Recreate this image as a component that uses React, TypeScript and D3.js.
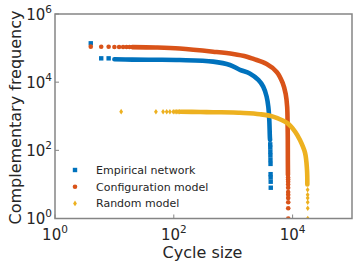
import React from "react";
import * as d3 from "d3";

// ---- data ----
const xTicks = [1, 1e2, 1e4];
const yTicks = [1, 1e2, 1e4, 1e6];
const seriesNames = ["Empirical network", "Configuration model", "Random model"];
const seriesColors = ["#0072BD", "#D95319", "#EDB120"];

// Empirical network
const empSparseSize = [4, 6, 8, 4200, 4210, 4220, 4230, 4240, 4250, 4260, 4270, 4280, 4290];
const empSparseFreq = [138000, 50000, 50000, 150, 120, 90, 70, 52, 40, 20, 16, 12, 8];
const empBandSize = [10, 20, 50, 126, 460, 880, 1300, 1900, 2650, 3200, 3650, 3900, 4050, 4150, 4180];
const empBandFreq = [47000, 46000, 45500, 44500, 40000, 32000, 23000, 18000, 11600, 7400, 3800, 1900, 780, 230, 200];

// Configuration model
const cfgSparseSize = [4, 6, 8, 10, 12, 14, 16, 18, 8400, 8400, 8410, 8410, 8420, 8420, 8430, 8430, 8440, 8440, 8450];
const cfgSparseFreq = [110000, 109000, 109000, 108000, 108000, 108000, 108000, 108000, 16, 14, 12, 10, 8, 6, 5, 4, 3, 2, 1];
const cfgBandSize = [20, 50, 126, 460, 1000, 1700, 2200, 3660, 5400, 6800, 7650, 8100, 8250, 8300, 8320, 8350];
const cfgBandFreq = [107000, 104000, 97000, 78500, 67000, 56000, 48000, 34000, 20000, 9500, 4500, 1875, 485, 200, 52, 19];

// Random model
const rndSparseSize = [13, 50, 66, 76, 86, 98, 105, 112, 118, 124, 17900, 17920, 17940, 17960, 17980, 18000];
const rndSparseFreq = [1365, 1360, 1360, 1360, 1355, 1355, 1355, 1350, 1350, 1350, 7, 5, 4, 3, 2, 1];
const rndBandSize = [130, 280, 460, 1000, 1300, 2820, 4680, 8050, 11000, 13300, 16200, 17470, 17700];
const rndBandFreq = [1350, 1330, 1310, 1290, 1260, 1145, 975, 635, 355, 200, 84, 27, 10];

const W = 360;
const H = 270;
const L = 55, R = 352, T = 14, B = 218.5;
const FONT = "DejaVu Sans, sans-serif";
const TXT = "#262626";
const AXC = "#858585";

export default function App() {
  const x = d3.scaleLog().domain([1, 1e5]).range([L, R]);
  const y = d3.scaleLog().domain([1, 1e6]).range([B, T]);
  const line = d3
    .line<[number, number]>()
    .x((d) => x(d[0]))
    .y((d) => y(d[1]))
    .curve(d3.curveCatmullRom.alpha(0.5));

  const zip = (a: number[], b: number[]) => a.map((v, i) => [v, b[i]] as [number, number]);

  const series = [
    { band: zip(empBandSize, empBandFreq), pts: zip(empSparseSize, empSparseFreq), shape: "square" },
    { band: zip(cfgBandSize, cfgBandFreq), pts: zip(cfgSparseSize, cfgSparseFreq), shape: "circle" },
    { band: zip(rndBandSize, rndBandFreq), pts: zip(rndSparseSize, rndSparseFreq), shape: "diamond" },
  ];

  const marker = (shape: string, cx: number, cy: number, color: string, key: string) => {
    if (shape === "square")
      return <rect key={key} x={cx - 2.2} y={cy - 2.2} width={4.4} height={4.4} fill={color} />;
    if (shape === "circle") return <circle key={key} cx={cx} cy={cy} r={2.3} fill={color} />;
    return (
      <path
        key={key}
        d={`M${cx},${cy - 2.8}L${cx + 1.9},${cy}L${cx},${cy + 2.8}L${cx - 1.9},${cy}Z`}
        fill={color}
      />
    );
  };

  const sup = (e: number) => String(Math.round(Math.log10(e)));

  return (
    <svg
      width={W}
      height={H}
      style={{ position: "absolute", left: 0, top: 0, background: "#fff" }}
      fontFamily={FONT}
    >
      <rect x={0} y={0} width={W} height={H} fill="#fff" />
      <defs>
        <clipPath id="plot">
          <rect x={L} y={T - 3} width={R - L} height={B - T + 3} />
        </clipPath>
      </defs>

      <g clipPath="url(#plot)">
        {series.map((s, i) => (
          <g key={i}>
            <path
              d={line(s.band) || ""}
              fill="none"
              stroke={seriesColors[i]}
              strokeWidth={4.6}
              strokeLinecap="round"
            />
            {s.pts.map((p, j) => marker(s.shape, x(p[0]), y(p[1]), seriesColors[i], `${i}-${j}`))}
          </g>
        ))}
      </g>

      {/* axes box */}
      <rect x={L} y={T} width={R - L} height={B - T} fill="none" stroke={AXC} strokeWidth={1.5} />

      {/* ticks */}
      {xTicks.map((t) => (
        <line key={"xt" + t} x1={x(t)} x2={x(t)} y1={B} y2={B - 4} stroke={AXC} strokeWidth={1} />
      ))}
      {yTicks.map((t) => (
        <line key={"yt" + t} x1={L} x2={L + 4} y1={y(t)} y2={y(t)} stroke={AXC} strokeWidth={1} />
      ))}

      {/* tick labels */}
      {xTicks.map((t) => (
        <text key={"xl" + t} x={x(t)} y={240} textAnchor="middle" fill={TXT}>
          <tspan fontSize={15}>10</tspan>
          <tspan fontSize={10.5} dy={-7}>
            {sup(t)}
          </tspan>
        </text>
      ))}
      {yTicks.map((t) => (
        <text key={"yl" + t} x={52} y={y(t) + 5.5} textAnchor="end" fill={TXT}>
          <tspan fontSize={15}>10</tspan>
          <tspan fontSize={10.5} dy={-7}>
            {sup(t)}
          </tspan>
        </text>
      ))}

      {/* axis labels */}
      <text x={202.5} y={258} textAnchor="middle" fontSize={16} fill={TXT}>
        Cycle size
      </text>
      <text
        transform={`translate(21,117.5) rotate(-90)`}
        textAnchor="middle"
        fontSize={16}
        fill={TXT}
      >
        Complementary frequency
      </text>

      {/* legend */}
      {seriesNames.map((n, i) => {
        const cy = 170 + i * 16.7;
        return (
          <g key={"lg" + i}>
            {marker(series[i].shape, 75, cy, seriesColors[i], "lm" + i)}
            <text x={96} y={cy + 4} fontSize={11} fill={TXT}>
              {n}
            </text>
          </g>
        );
      })}
    </svg>
  );
}
